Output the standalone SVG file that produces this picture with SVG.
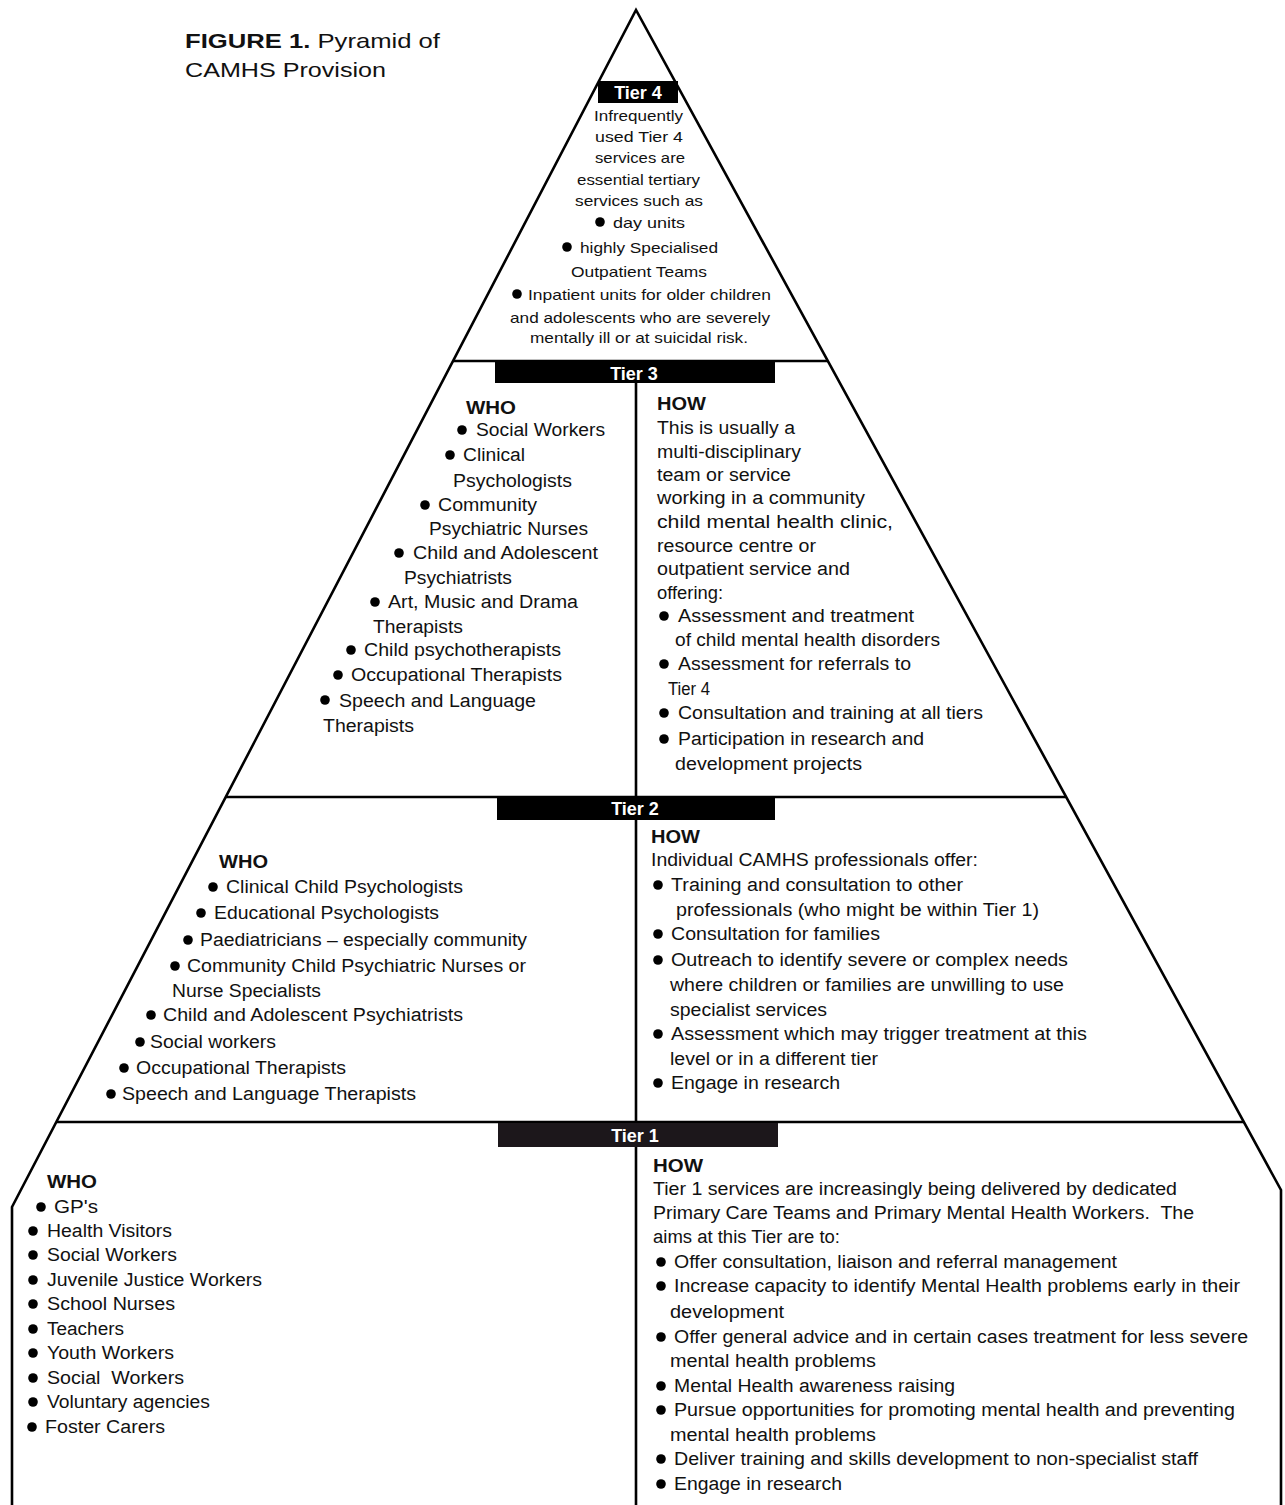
<svg xmlns="http://www.w3.org/2000/svg" width="1285" height="1505" viewBox="0 0 1285 1505">
<style>
text{font-family:"Liberation Sans",Arial,sans-serif;fill:#111}
.b{font-size:18px}
.s{font-size:15px}
.h{font-size:18px;font-weight:bold}
.lab{font-size:18px;font-weight:bold;fill:#fff;text-anchor:middle}
.ttl{font-size:21px}
.line{stroke:#000;stroke-width:2.6;fill:none}
.box{fill:#000}
circle{fill:#000}
</style>
<rect width="1285" height="1505" fill="#fff"/>
<g id="outline">
<path class="line" d="M12,1505 V1207 L636,10 L1281,1190 V1505"/>
<line class="line" x1="453" y1="361" x2="828" y2="361"/>
<line class="line" x1="226" y1="797" x2="1066" y2="797"/>
<line class="line" x1="57" y1="1122" x2="1244" y2="1122"/>
<line class="line" x1="636" y1="383" x2="636" y2="1505"/>
</g>
<g id="title">
<text class="ttl" x="185" y="48" textLength="255" lengthAdjust="spacingAndGlyphs"><tspan font-weight="bold">FIGURE  1.</tspan> Pyramid of</text>
<text class="ttl" x="185" y="77" textLength="201" lengthAdjust="spacingAndGlyphs">CAMHS Provision</text>
</g>
<g id="tier4">
<rect class="box" x="598" y="81" width="80" height="22"/>
<text class="lab" x="638" y="99">Tier 4</text>
<text class="s" x="594" y="121" textLength="89" lengthAdjust="spacingAndGlyphs">Infrequently</text>
<text class="s" x="595" y="142" textLength="88" lengthAdjust="spacingAndGlyphs">used Tier 4</text>
<text class="s" x="595" y="163" textLength="90" lengthAdjust="spacingAndGlyphs">services are</text>
<text class="s" x="577" y="185" textLength="123" lengthAdjust="spacingAndGlyphs">essential tertiary</text>
<text class="s" x="575" y="206" textLength="128" lengthAdjust="spacingAndGlyphs">services such as</text>
<circle cx="600" cy="222" r="4.8"/>
<text class="s" x="613" y="228" textLength="72" lengthAdjust="spacingAndGlyphs">day units</text>
<circle cx="567" cy="247" r="4.8"/>
<text class="s" x="580" y="253" textLength="138" lengthAdjust="spacingAndGlyphs">highly Specialised</text>
<text class="s" x="571" y="277" textLength="136" lengthAdjust="spacingAndGlyphs">Outpatient Teams</text>
<circle cx="517" cy="294" r="4.8"/>
<text class="s" x="528" y="300" textLength="243" lengthAdjust="spacingAndGlyphs">Inpatient units for older children</text>
<text class="s" x="510" y="323" textLength="260" lengthAdjust="spacingAndGlyphs">and adolescents who are severely</text>
<text class="s" x="530" y="343" textLength="218" lengthAdjust="spacingAndGlyphs">mentally ill or at suicidal risk.</text>
</g>
<g id="tier3">
<rect class="box" x="495" y="362" width="280" height="21"/>
<text class="lab" x="634" y="380">Tier 3</text>
<text class="h" x="466" y="414" textLength="50" lengthAdjust="spacingAndGlyphs">WHO</text>
<circle cx="462" cy="430" r="4.8"/>
<text class="b" x="476" y="436" textLength="129" lengthAdjust="spacingAndGlyphs">Social Workers</text>
<circle cx="450" cy="455" r="4.8"/>
<text class="b" x="463" y="461" textLength="62" lengthAdjust="spacingAndGlyphs">Clinical</text>
<text class="b" x="453" y="487" textLength="119" lengthAdjust="spacingAndGlyphs">Psychologists</text>
<circle cx="425" cy="505" r="4.8"/>
<text class="b" x="438" y="511" textLength="99" lengthAdjust="spacingAndGlyphs">Community</text>
<text class="b" x="429" y="535" textLength="159" lengthAdjust="spacingAndGlyphs">Psychiatric Nurses</text>
<circle cx="399" cy="553" r="4.8"/>
<text class="b" x="413" y="559" textLength="185" lengthAdjust="spacingAndGlyphs">Child and Adolescent</text>
<text class="b" x="404" y="584" textLength="108" lengthAdjust="spacingAndGlyphs">Psychiatrists</text>
<circle cx="375" cy="602" r="4.8"/>
<text class="b" x="388" y="608" textLength="190" lengthAdjust="spacingAndGlyphs">Art, Music and Drama</text>
<text class="b" x="373" y="633" textLength="90" lengthAdjust="spacingAndGlyphs">Therapists</text>
<circle cx="351" cy="650" r="4.8"/>
<text class="b" x="364" y="656" textLength="197" lengthAdjust="spacingAndGlyphs">Child psychotherapists</text>
<circle cx="338" cy="675" r="4.8"/>
<text class="b" x="351" y="681" textLength="211" lengthAdjust="spacingAndGlyphs">Occupational Therapists</text>
<circle cx="325" cy="700" r="4.8"/>
<text class="b" x="339" y="707" textLength="197" lengthAdjust="spacingAndGlyphs">Speech and Language</text>
<text class="b" x="323" y="732" textLength="91" lengthAdjust="spacingAndGlyphs">Therapists</text>
<text class="h" x="657" y="410" textLength="49" lengthAdjust="spacingAndGlyphs">HOW</text>
<text class="b" x="657" y="434" textLength="138" lengthAdjust="spacingAndGlyphs">This is usually a</text>
<text class="b" x="657" y="458" textLength="144" lengthAdjust="spacingAndGlyphs">multi-disciplinary</text>
<text class="b" x="657" y="481" textLength="134" lengthAdjust="spacingAndGlyphs">team or service</text>
<text class="b" x="657" y="504" textLength="208" lengthAdjust="spacingAndGlyphs">working in a community</text>
<text class="b" x="657" y="528" textLength="236" lengthAdjust="spacingAndGlyphs">child mental health clinic,</text>
<text class="b" x="657" y="552" textLength="159" lengthAdjust="spacingAndGlyphs">resource centre or</text>
<text class="b" x="657" y="575" textLength="193" lengthAdjust="spacingAndGlyphs">outpatient service and</text>
<text class="b" x="657" y="599" textLength="66" lengthAdjust="spacingAndGlyphs">offering:</text>
<circle cx="664" cy="616" r="4.8"/>
<text class="b" x="678" y="622" textLength="236" lengthAdjust="spacingAndGlyphs">Assessment and treatment</text>
<text class="b" x="675" y="646" textLength="265" lengthAdjust="spacingAndGlyphs">of child mental health disorders</text>
<circle cx="664" cy="664" r="4.8"/>
<text class="b" x="678" y="670" textLength="233" lengthAdjust="spacingAndGlyphs">Assessment for referrals to</text>
<text class="b" x="668" y="695" textLength="42" lengthAdjust="spacingAndGlyphs">Tier 4</text>
<circle cx="664" cy="713" r="4.8"/>
<text class="b" x="678" y="719" textLength="305" lengthAdjust="spacingAndGlyphs">Consultation and training at all tiers</text>
<circle cx="664" cy="739" r="4.8"/>
<text class="b" x="678" y="745" textLength="246" lengthAdjust="spacingAndGlyphs">Participation in research and</text>
<text class="b" x="675" y="770" textLength="187" lengthAdjust="spacingAndGlyphs">development projects</text>
</g>
<g id="tier2">
<rect class="box" x="497" y="797" width="278" height="23"/>
<text class="lab" x="635" y="815">Tier 2</text>
<text class="h" x="219" y="868" textLength="49" lengthAdjust="spacingAndGlyphs">WHO</text>
<circle cx="213" cy="887" r="4.8"/>
<text class="b" x="226" y="893" textLength="237" lengthAdjust="spacingAndGlyphs">Clinical Child Psychologists</text>
<circle cx="201" cy="913" r="4.8"/>
<text class="b" x="214" y="919" textLength="225" lengthAdjust="spacingAndGlyphs">Educational Psychologists</text>
<circle cx="188" cy="940" r="4.8"/>
<text class="b" x="200" y="946" textLength="327" lengthAdjust="spacingAndGlyphs">Paediatricians – especially community</text>
<circle cx="175" cy="966" r="4.8"/>
<text class="b" x="187" y="972" textLength="339" lengthAdjust="spacingAndGlyphs">Community Child Psychiatric Nurses or</text>
<text class="b" x="172" y="997" textLength="149" lengthAdjust="spacingAndGlyphs">Nurse Specialists</text>
<circle cx="151" cy="1015" r="4.8"/>
<text class="b" x="163" y="1021" textLength="300" lengthAdjust="spacingAndGlyphs">Child and Adolescent Psychiatrists</text>
<circle cx="140" cy="1042" r="4.8"/>
<text class="b" x="150" y="1048" textLength="126" lengthAdjust="spacingAndGlyphs">Social workers</text>
<circle cx="124" cy="1068" r="4.8"/>
<text class="b" x="136" y="1074" textLength="210" lengthAdjust="spacingAndGlyphs">Occupational Therapists</text>
<circle cx="111" cy="1094" r="4.8"/>
<text class="b" x="122" y="1100" textLength="294" lengthAdjust="spacingAndGlyphs">Speech and Language Therapists</text>
<text class="h" x="651" y="843" textLength="49" lengthAdjust="spacingAndGlyphs">HOW</text>
<text class="b" x="651" y="866" textLength="327" lengthAdjust="spacingAndGlyphs">Individual CAMHS professionals offer:</text>
<circle cx="658" cy="885" r="4.8"/>
<text class="b" x="671" y="891" textLength="292" lengthAdjust="spacingAndGlyphs">Training and consultation to other</text>
<text class="b" x="676" y="916" textLength="363" lengthAdjust="spacingAndGlyphs">professionals (who might be within Tier 1)</text>
<circle cx="658" cy="934" r="4.8"/>
<text class="b" x="671" y="940" textLength="209" lengthAdjust="spacingAndGlyphs">Consultation for families</text>
<circle cx="658" cy="960" r="4.8"/>
<text class="b" x="671" y="966" textLength="397" lengthAdjust="spacingAndGlyphs">Outreach to identify severe or complex needs</text>
<text class="b" x="670" y="991" textLength="394" lengthAdjust="spacingAndGlyphs">where children or families are unwilling to use</text>
<text class="b" x="670" y="1016" textLength="157" lengthAdjust="spacingAndGlyphs">specialist services</text>
<circle cx="658" cy="1034" r="4.8"/>
<text class="b" x="671" y="1040" textLength="416" lengthAdjust="spacingAndGlyphs">Assessment which may trigger treatment at this</text>
<text class="b" x="670" y="1065" textLength="208" lengthAdjust="spacingAndGlyphs">level or in a different tier</text>
<circle cx="658" cy="1083" r="4.8"/>
<text class="b" x="671" y="1089" textLength="169" lengthAdjust="spacingAndGlyphs">Engage in research</text>
</g>
<g id="tier1">
<rect x="498" y="1123" width="280" height="24" fill="#1c171b"/>
<text class="lab" x="635" y="1142">Tier 1</text>
<text class="h" x="47" y="1188" textLength="50" lengthAdjust="spacingAndGlyphs">WHO</text>
<circle cx="41" cy="1207" r="4.8"/>
<text class="b" x="54" y="1213" textLength="44" lengthAdjust="spacingAndGlyphs">GP's</text>
<circle cx="33" cy="1231" r="4.8"/>
<text class="b" x="47" y="1237" textLength="125" lengthAdjust="spacingAndGlyphs">Health Visitors</text>
<circle cx="33" cy="1255" r="4.8"/>
<text class="b" x="47" y="1261" textLength="130" lengthAdjust="spacingAndGlyphs">Social Workers</text>
<circle cx="33" cy="1280" r="4.8"/>
<text class="b" x="47" y="1286" textLength="215" lengthAdjust="spacingAndGlyphs">Juvenile Justice Workers</text>
<circle cx="33" cy="1304" r="4.8"/>
<text class="b" x="47" y="1310" textLength="128" lengthAdjust="spacingAndGlyphs">School Nurses</text>
<circle cx="33" cy="1329" r="4.8"/>
<text class="b" x="47" y="1335" textLength="77" lengthAdjust="spacingAndGlyphs">Teachers</text>
<circle cx="33" cy="1353" r="4.8"/>
<text class="b" x="47" y="1359" textLength="127" lengthAdjust="spacingAndGlyphs">Youth Workers</text>
<circle cx="33" cy="1378" r="4.8"/>
<text class="b" x="47" y="1384" textLength="137" lengthAdjust="spacingAndGlyphs" xml:space="preserve">Social  Workers</text>
<circle cx="33" cy="1402" r="4.8"/>
<text class="b" x="47" y="1408" textLength="163" lengthAdjust="spacingAndGlyphs">Voluntary agencies</text>
<circle cx="32" cy="1427" r="4.8"/>
<text class="b" x="45" y="1433" textLength="120" lengthAdjust="spacingAndGlyphs">Foster Carers</text>
<text class="h" x="653" y="1172" textLength="50" lengthAdjust="spacingAndGlyphs">HOW</text>
<text class="b" x="653" y="1195" textLength="524" lengthAdjust="spacingAndGlyphs">Tier 1 services are increasingly being delivered by dedicated</text>
<text class="b" x="653" y="1219" textLength="541" lengthAdjust="spacingAndGlyphs" xml:space="preserve">Primary Care Teams and Primary Mental Health Workers.  The</text>
<text class="b" x="653" y="1243" textLength="187" lengthAdjust="spacingAndGlyphs">aims at this Tier are to:</text>
<circle cx="661" cy="1262" r="4.8"/>
<text class="b" x="674" y="1268" textLength="443" lengthAdjust="spacingAndGlyphs">Offer consultation, liaison and referral management</text>
<circle cx="661" cy="1286" r="4.8"/>
<text class="b" x="674" y="1292" textLength="566" lengthAdjust="spacingAndGlyphs">Increase capacity to identify Mental Health problems early in their</text>
<text class="b" x="670" y="1318" textLength="114" lengthAdjust="spacingAndGlyphs">development</text>
<circle cx="661" cy="1337" r="4.8"/>
<text class="b" x="674" y="1343" textLength="574" lengthAdjust="spacingAndGlyphs">Offer general advice and in certain cases treatment for less severe</text>
<text class="b" x="670" y="1367" textLength="206" lengthAdjust="spacingAndGlyphs">mental health problems</text>
<circle cx="661" cy="1386" r="4.8"/>
<text class="b" x="674" y="1392" textLength="281" lengthAdjust="spacingAndGlyphs">Mental Health awareness raising</text>
<circle cx="661" cy="1410" r="4.8"/>
<text class="b" x="674" y="1416" textLength="561" lengthAdjust="spacingAndGlyphs">Pursue opportunities for promoting mental health and preventing</text>
<text class="b" x="670" y="1441" textLength="206" lengthAdjust="spacingAndGlyphs">mental health problems</text>
<circle cx="661" cy="1459" r="4.8"/>
<text class="b" x="674" y="1465" textLength="524" lengthAdjust="spacingAndGlyphs">Deliver training and skills development to non-specialist staff</text>
<circle cx="661" cy="1484" r="4.8"/>
<text class="b" x="674" y="1490" textLength="168" lengthAdjust="spacingAndGlyphs">Engage in research</text>
</g>
</svg>
